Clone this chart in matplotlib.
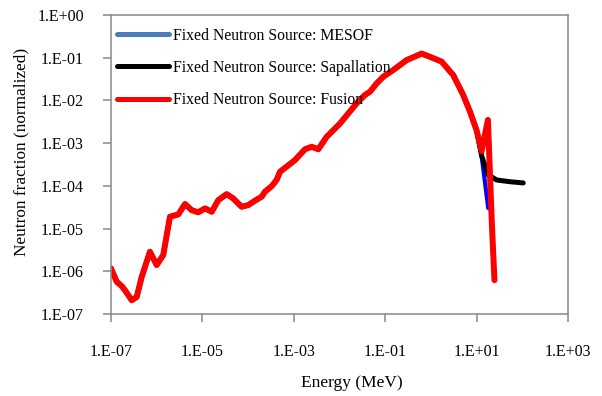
import math
import matplotlib
matplotlib.use('Agg')
import matplotlib.pyplot as plt
from matplotlib.lines import Line2D
from matplotlib.ticker import FixedLocator, FuncFormatter, NullLocator

plt.rcParams['font.family'] = ['Liberation Serif', 'DejaVu Serif']

# shared part of the spectrum (all three sources overlap here)
energy_common = [1.0e-7, 1.33e-7, 1.71e-7, 2.02e-7, 2.84e-7, 3.65e-7, 4.7e-7, 7.1e-7,
                 1.0e-6, 1.39e-6, 1.95e-6, 2.97e-6, 4.16e-6, 5.8e-6, 8.1e-6, 1.14e-5,
                 1.6e-5, 2.23e-5, 3.4e-5, 4.7e-5, 7.2e-5, 1.01e-4, 1.42e-4, 1.99e-4,
                 2.34e-4, 3.3e-4, 4.2e-4, 5.0e-4, 1.06e-3, 1.76e-3, 2.47e-3, 3.44e-3,
                 5.25e-3, 1.03e-2, 2.38e-2, 3.6e-2, 4.65e-2, 6.5e-2, 9.1e-2, 0.15,
                 0.295, 0.63, 0.955, 1.72, 3.09, 5.1, 7.2, 10.0]
frac_common = [1.17e-6, 5.7e-7, 4.5e-7, 3.6e-7, 2.1e-7, 2.5e-7, 7.4e-7, 2.86e-6,
               1.4e-6, 2.4e-6, 1.89e-5, 2.15e-5, 3.75e-5, 2.7e-5, 2.4e-5, 2.97e-5,
               2.47e-5, 4.65e-5, 6.4e-5, 5.1e-5, 3.24e-5, 3.55e-5, 4.5e-5, 5.6e-5,
               7.3e-5, 9.9e-5, 1.37e-4, 2.14e-4, 4.0e-4, 7.2e-4, 8.2e-4, 7.2e-4,
               1.41e-3, 2.9e-3, 8.6e-3, 1.34e-2, 1.6e-2, 2.5e-2, 3.6e-2, 5.15e-2,
               8.8e-2, 0.125, 0.105, 8.1e-2, 3.9e-2, 1.34e-2, 5.4e-3, 2.0e-3]

# high energy tails where the sources differ
energy_mesof = [12.9, 18.0]
frac_mesof = [5.0e-4, 3.0e-5]
energy_spall = [12.9, 18.0, 27.6, 53.8, 105.0]
frac_spall = [5.0e-4, 1.8e-4, 1.37e-4, 1.25e-4, 1.17e-4]
energy_fusion = [12.9, 17.7, 21.4, 24.6]
frac_fusion = [6.5e-4, 3.5e-3, 1.6e-5, 6.2e-7]

labels = ['Fixed Neutron Source: MESOF',
          'Fixed Neutron Source: Sapallation',
          'Fixed Neutron Source: Fusion']

fig = plt.figure(figsize=(6.02, 3.96), dpi=100)
ax = fig.add_axes([0.1844, 0.2071, 0.7591, 0.755])

ax.plot(energy_common + energy_mesof, frac_common + frac_mesof, color='#0000ff',
        lw=3.0, solid_capstyle='round', solid_joinstyle='round')
ax.plot(energy_common + energy_spall, frac_common + frac_spall, color='black',
        lw=3.6, solid_capstyle='round', solid_joinstyle='round')
ax.plot(energy_common + energy_fusion, frac_common + frac_fusion, color='#ff0000',
        lw=4.3, solid_capstyle='round', solid_joinstyle='round')

ax.set_xscale('log')
ax.set_yscale('log')
ax.set_xlim(1e-7, 1e3)
ax.set_ylim(1e-7, 1e0)

sci = FuncFormatter(lambda v, p: '1.E%+03d' % round(math.log10(v)))
ax.xaxis.set_major_locator(FixedLocator([10.0**e for e in range(-7, 4, 2)]))
ax.yaxis.set_major_locator(FixedLocator([10.0**e for e in range(-7, 1)]))
ax.xaxis.set_minor_locator(NullLocator())
ax.yaxis.set_minor_locator(NullLocator())
ax.xaxis.set_major_formatter(sci)
ax.yaxis.set_major_formatter(sci)

for s in ax.spines.values():
    s.set_color('#888888')
    s.set_linewidth(1.1)
ax.tick_params(axis='both', direction='out', length=5.5, width=1.1, color='#888888',
               labelsize=11.5, labelcolor='black')
ax.tick_params(axis='x', pad=16)
ax.tick_params(axis='y', pad=14)

ax.set_xlabel('Energy (MeV)', fontsize=12.5)
ax.set_ylabel('Neutron fraction (normalized)', fontsize=12.4)
ax.xaxis.set_label_coords(0.527, -0.205)
ax.yaxis.set_label_coords(-0.178, 0.543)

handles = [Line2D([], [], color='#4a7ebb', lw=3.6, solid_capstyle='round'),
           Line2D([], [], color='black', lw=3.6, solid_capstyle='round'),
           Line2D([], [], color='#ff0000', lw=3.6, solid_capstyle='round')]
leg = ax.legend(handles, labels, loc='upper left', bbox_to_anchor=(-0.012, 0.997),
                frameon=False, fontsize=11.3, handlelength=3.3, handletextpad=0.28,
                labelspacing=1.03, borderaxespad=0.35)

fig.savefig('out.png', dpi=100)
